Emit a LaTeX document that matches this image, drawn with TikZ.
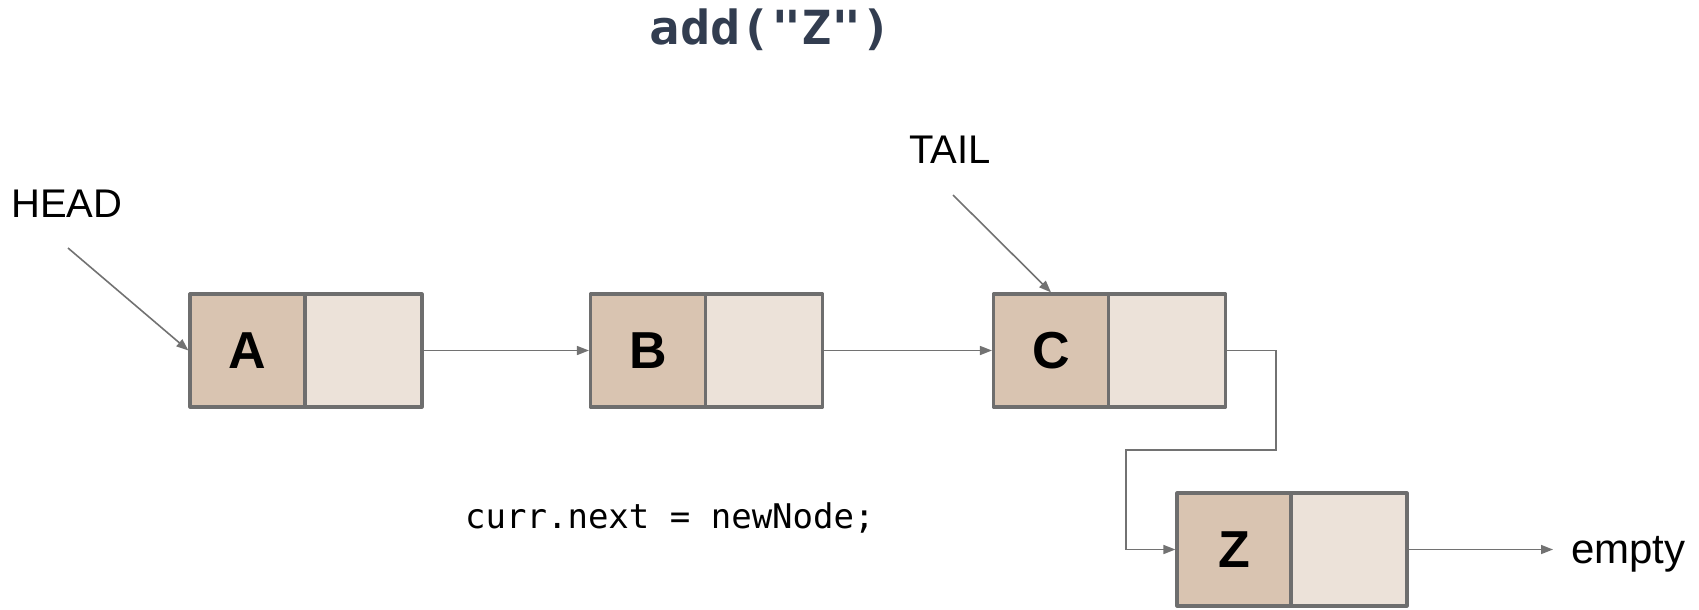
\documentclass[tikz,border=0pt]{standalone}
\usepackage{fontspec}
\setmainfont{Liberation Sans}
\newfontfamily\codefont{DejaVu Sans Mono}
\newfontfamily\titlefont[FakeStretch=1.07]{DejaVu Sans Mono}
\usetikzlibrary{arrows.meta}
\definecolor{boxline}{HTML}{6E6E6E}
\definecolor{connline}{HTML}{727272}
\definecolor{datafill}{HTML}{D9C4B1}
\definecolor{ptrfill}{HTML}{ECE2D9}
\definecolor{titlecol}{HTML}{323D50}
\begin{document}
\begin{tikzpicture}[x=1pt,y=1pt,
  cellbase/.style={rectangle, draw=boxline, line width=3.2pt, minimum height=113pt, inner sep=0pt, line join=round},
  datacell/.style={cellbase, fill=datafill, minimum width=115pt, font=\fontsize{52}{52}\selectfont\bfseries},
  ptrcell/.style={cellbase, fill=ptrfill, minimum width=117pt},
  conn/.style={draw=connline, line width=1.6pt, -{Triangle[length=12pt,width=9pt]}},
  lbltext/.style={font=\fontsize{40}{48}\selectfont, text=black, inner sep=0pt, anchor=base west},
]
\useasboundingbox (0,0) rectangle (1699,-610);

% title
\node[anchor=base, inner sep=0pt, text=titlecol, font=\titlefont\bfseries\fontsize{47}{52}\selectfont] (title) at (771,-45) {add("Z")};

% list nodes
\node[datacell] (A) at (247.5,-350.5) {A};
\node[ptrcell] (Ap) at (363.5,-350.5) {};
\node[datacell] (B) at (648,-350.5) {B};
\node[ptrcell] (Bp) at (764,-350.5) {};
\node[datacell] (C) at (1051,-350.5) {C};
\node[ptrcell] (Cp) at (1167,-350.5) {};
\node[datacell, minimum width=114pt] (Z) at (1234,-549.5) {Z};
\node[ptrcell, minimum width=116pt] (Zp) at (1349,-549.5) {};

% labels
\node[lbltext] (head) at (11,-217) {HEAD};
\node[lbltext] (tail) at (909,-163) {TAIL};
\node[lbltext, font=\fontsize{42}{48}\selectfont] (empty) at (1571,-563) {empty};
\node[anchor=base west, inner sep=0pt, font=\codefont\fontsize{34}{40}\selectfont] (code) at (465,-528) {curr.next = newNode;};

% coordinates
\coordinate (headstart) at (68,-248);
\coordinate (tailstart) at (953,-195);
\coordinate (cz1) at (1276,-450);
\coordinate (cz2) at (1126,-450);
\coordinate (emptyend) at (1553,-549.5);

% connectors
\draw[conn] (headstart) -- (A.west);
\draw[conn] (tailstart) -- (C.north);
\draw[conn] (Ap.east) -- (B.west);
\draw[conn] (Bp.east) -- (C.west);
\draw[conn] (Cp.east) -| (cz1) -- (cz2) |- (Z.west);
\draw[conn] (Zp.east) -- (emptyend);
\end{tikzpicture}
\end{document}
